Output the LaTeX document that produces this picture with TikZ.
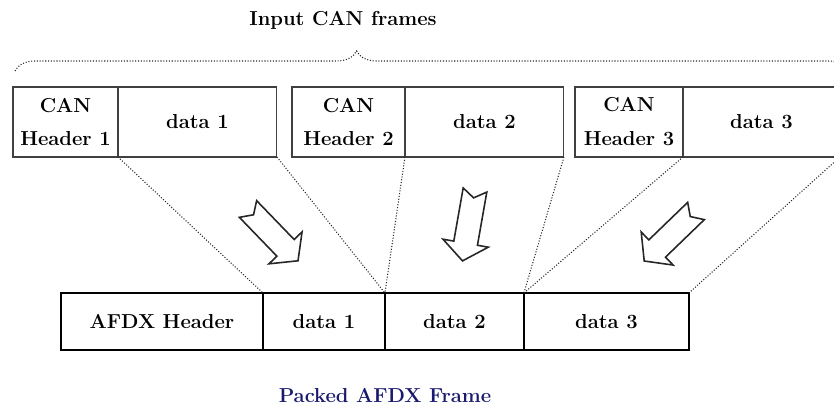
\documentclass[tikz,border=0pt]{standalone}
\usepackage{tikz}
\usetikzlibrary{positioning, decorations.pathreplacing}
\definecolor{afdxcol}{RGB}{25,25,112}
\newcommand{\canfont}{\fontsize{11.5}{19.3}\selectfont\bfseries}

\begin{document}
\begin{tikzpicture}[
  x=0.02cm, y=-0.02cm,
  font=\canfont,
  canbox/.style={draw=black!75, line width=0.6pt, minimum height=1.4cm,
                 inner sep=0pt, outer sep=0pt, align=center},
  afdxbox/.style={draw=black, line width=1.1pt, minimum height=1.14cm,
                  inner sep=0pt, outer sep=0pt, align=center},
  map/.style={densely dotted, line width=0.6pt, black!85},
  blockarrow/.style={draw=black!85, line width=0.9pt, fill=white, line join=miter},
  title/.style={font=\canfont}
]
  \useasboundingbox (0,0) rectangle (834,408);

  % input CAN frames
  \node[canbox, minimum width=2.10cm, anchor=north west] (hdr1) at (13,87) {CAN\\Header 1};
  \node[canbox, minimum width=3.18cm, right=0pt of hdr1] (dat1) {data 1};
  \node[canbox, minimum width=2.26cm, anchor=north west] (hdr2) at (292,87) {CAN\\Header 2};
  \node[canbox, minimum width=3.18cm, right=0pt of hdr2] (dat2) {data 2};
  \node[canbox, minimum width=2.16cm, anchor=north west] (hdr3) at (575,87) {CAN\\Header 3};
  \node[canbox, minimum width=3.14cm, right=0pt of hdr3] (dat3) {data 3};

  % packed AFDX frame
  \node[afdxbox, minimum width=4.04cm, anchor=north west] (afdx) at (61,293) {AFDX Header};
  \node[afdxbox, minimum width=2.44cm, right=0pt of afdx] (slot1) {data 1};
  \node[afdxbox, minimum width=2.78cm, right=0pt of slot1] (slot2) {data 2};
  \node[afdxbox, minimum width=3.30cm, right=0pt of slot2] (slot3) {data 3};

  \node[title] (intitle) at (343,20) {Input CAN frames};
  \node[title, text=afdxcol] (outtitle) at (385,395) {Packed AFDX Frame};

  \coordinate (braceL) at (15,71);
  \coordinate (braceR) at (848,71);
  \draw[map, decorate, decoration={brace, amplitude=0.4cm, aspect=0.41}]
    (braceL) -- (braceR);

  \draw[map] (dat1.south west) -- (slot1.north west);
  \draw[map] (dat1.south east) -- (slot1.north east);
  \draw[map] (dat2.south west) -- (slot2.north west);
  \draw[map] (dat2.south east) -- (slot2.north east);
  \draw[map] (dat3.south west) -- (slot3.north west);
  \draw[map] (dat3.south east) -- (slot3.north east);

  \foreach \px/\py/\ang in {248/209/-46, 475/190/-100, 696/211/-136}
    \draw[blockarrow, shift={(\px,\py)}, rotate=\ang]
      (0,12) -- (54,12) -- (54,23) -- (72,0) -- (54,-23) -- (54,-12)
      -- (0,-12) -- (8,0) -- cycle;
\end{tikzpicture}
\end{document}
